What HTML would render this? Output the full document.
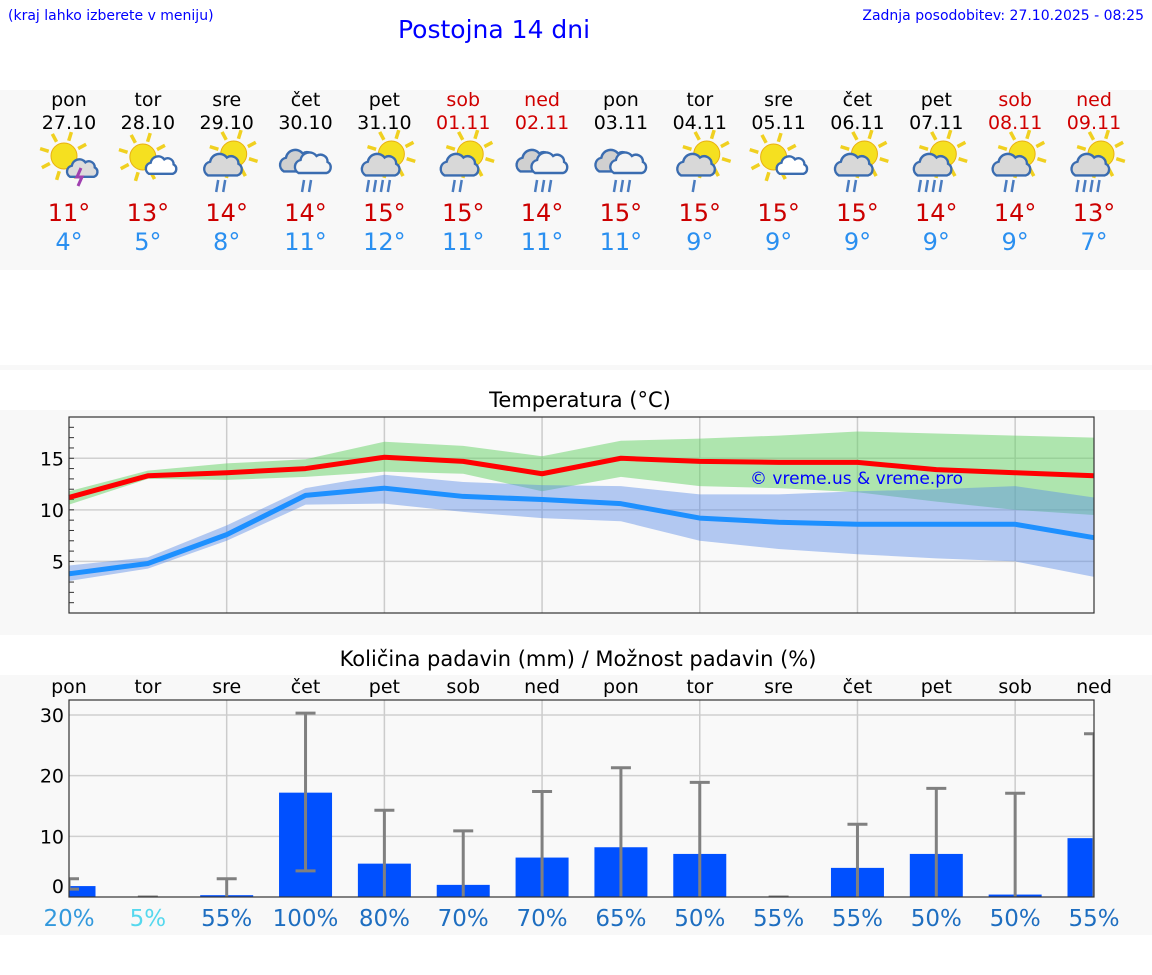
<!DOCTYPE html>
<html><head><meta charset="utf-8">
<style>
body{margin:0;width:1152px;height:975px;background:#fff;font-family:"DejaVu Sans","Liberation Sans",sans-serif;position:relative;overflow:hidden}
.abs{position:absolute}
</style></head>
<body>
<div class="abs" style="left:8px;top:8px;font-size:14px;color:#0000ff">(kraj lahko izberete v meniju)</div>
<div class="abs" style="left:398px;top:15px;font-size:25px;color:#0000ff">Postojna 14 dni</div>
<div class="abs" style="right:8px;top:8px;font-size:14px;color:#0000ff">Zadnja posodobitev: 27.10.2025 - 08:25</div>
<div class="abs" style="left:0;top:90px;width:1152px;height:180px;background:#f8f8f8"></div>
<div class="abs" style="left:0;top:365px;width:1152px;height:5px;background:#f8f8f8"></div>
<div class="abs" style="left:0;top:410px;width:1152px;height:225px;background:#f8f8f8"></div>
<div class="abs" style="left:0;top:675px;width:1152px;height:260px;background:#f8f8f8"></div>
<div id="days"></div>
<div class="abs" style="left:0;width:1160px;top:388px;text-align:center;font-size:21px">Temperatura (°C)</div>
<div class="abs" style="left:0;width:1156px;top:647px;text-align:center;font-size:21px">Količina padavin (mm) / Možnost padavin (%)</div>
<svg id="tchart" class="abs" style="left:0;top:0" width="1152" height="975"></svg>
<script>
const days=["pon","tor","sre","čet","pet","sob","ned","pon","tor","sre","čet","pet","sob","ned"];
const dates=["27.10","28.10","29.10","30.10","31.10","01.11","02.11","03.11","04.11","05.11","06.11","07.11","08.11","09.11"];
const maxT=[11,13,14,14,15,15,14,15,15,15,15,14,14,13];
const minT=[4,5,8,11,12,11,11,11,9,9,9,9,9,7];
const icons=["storm","sunc","sunr2","cr2","sunr4","sunr2","cr3","cr3","sunr1","sunc","sunr2","sunr4","sunr2","sunr4"];
const redLine=[11.2,13.3,13.6,14.0,15.1,14.7,13.5,15.0,14.7,14.6,14.6,13.9,13.6,13.3];
const blueLine=[3.8,4.8,7.6,11.4,12.1,11.3,11.0,10.6,9.2,8.8,8.6,8.6,8.6,7.3];
const greenHi=[11.8,13.8,14.5,14.9,16.6,16.2,15.2,16.7,16.9,17.2,17.6,17.4,17.2,17.0];
const greenLo=[10.5,13.0,12.9,13.2,13.7,13.5,11.8,13.2,12.3,12.1,11.7,10.8,10.0,9.5];
const blueHi=[4.6,5.4,8.5,12.1,13.4,12.7,12.4,12.3,11.5,11.5,11.8,12.0,12.3,11.2];
const blueLo=[3.1,4.3,7.0,10.5,10.6,9.8,9.2,8.9,7.0,6.2,5.7,5.3,5.0,3.5];
const tTicks=[5,10,15];
const rain=[1.8,0,0.3,17.2,5.5,2.0,6.5,8.2,7.1,0,4.8,7.1,0.4,9.7];
const rainLo=[1.3,0,0,4.3,0,0,0,0,0,0,0,0,0,0];
const rainHi=[3.0,0,3.0,30.3,14.3,10.9,17.4,21.3,18.9,0,12.0,17.9,17.1,26.9];
const prob=[20,5,55,100,80,70,70,65,50,55,55,50,50,55];
const pTicks=[0,10,20,30];
const X=i=>69+i*(1094-69)/13;
const yT=v=>613-v*(613-417)/19;
const yP=v=>897-v*(897-715)/30;
const NS="http://www.w3.org/2000/svg";
const svg=document.getElementById('tchart');
function mk(tag,attrs,parent){const e=document.createElementNS(NS,tag);for(const k in attrs)e.setAttribute(k,attrs[k]);(parent||svg).appendChild(e);return e;}
const dd=document.getElementById('days');
days.forEach((d,i)=>{
 const we=(i==5||i==6||i==12||i==13);
 const c=document.createElement('div');c.className='abs';
 
 
 c.style.cssText=`left:${X(i)-40}px;width:80px;top:89px;text-align:center`;
 c.innerHTML=`<div style="font-size:19px;line-height:23px;color:${we?'#d00000':'#000'}">${d}<br>${dates[i]}</div>
 <div style="height:64px"></div>
 <div style="font-size:24px;line-height:29px;color:#cc0000">${maxT[i]}°</div>
 <div style="font-size:24px;line-height:28px;color:#2a8ff0">${minT[i]}°</div>`;
 dd.appendChild(c);
});
function sun(g,cx,cy,r){for(let k=0;k<8;k++){const a=k*Math.PI/4+0.3;mk('line',{x1:cx+Math.cos(a)*(r+3),y1:cy+Math.sin(a)*(r+3),x2:cx+Math.cos(a)*(r+12),y2:cy+Math.sin(a)*(r+12),stroke:'#f0d020','stroke-width':3.5},g);}
 mk('circle',{cx,cy,r,fill:'#f5e020',stroke:'#e8b010','stroke-width':1},g);}
function cloud(g,cx,cy,s,fill){const p=`M${cx-14*s},${cy+8*s} a${7*s},${7*s} 0 0 1 ${2*s},${-13*s} a${9*s},${9*s} 0 0 1 ${16*s},${-4*s} a${7*s},${7*s} 0 0 1 ${11*s},${6*s} a${6*s},${6*s} 0 0 1 ${-1*s},${11*s} z`;
 mk('path',{d:p,fill:fill,stroke:'#3a6cb0','stroke-width':2.4},g);}
function drops(g,cx,cy,n){for(let k=0;k<n;k++){const x=cx-(n-1)*3.5+k*7;mk('line',{x1:x+2,y1:cy,x2:x,y2:cy+12,stroke:'#4a7cc0','stroke-width':2.5},g);}}
icons.forEach((t,i)=>{
 const g=mk('g',{});
 
 
 const cx=X(i),cy=160;
 if(t=='storm'){sun(g,cx-5,cy-4,13);cloud(g,cx+13,cy+10,0.85,'#dcdcdc');mk('path',{d:`M${cx+12},${cy+8} l-4,9 h5 l-4,9`,fill:'none',stroke:'#a040b0','stroke-width':3},g);}
 else if(t=='sunc'){sun(g,cx-5,cy-3,13);cloud(g,cx+13,cy+7,0.85,'#fff');}
 else if(t.startsWith('sunr')){sun(g,cx+7,cy-6,13);cloud(g,cx-4,cy+7,1.05,'#d8d8d8');drops(g,cx-7,cy+20,+t[4]);}
 else {cloud(g,cx-7,cy+3,1.05,'#d0d0d0');cloud(g,cx+7,cy+5,1.0,'#f4f4f4');drops(g,cx,cy+20,+t[2]);}
});
mk('rect',{x:69,y:417,width:1025,height:196,fill:'#f9f9f9'});
tTicks.forEach(v=>{mk('line',{x1:69,x2:1094,y1:yT(v),y2:yT(v),stroke:'#d0d0d0','stroke-width':1.5});
 const t=mk('text',{x:64,y:yT(v)+7,'text-anchor':'end','font-size':19,fill:'#000'});t.textContent=v;
 });
for(let v=1;v<19;v++)mk('line',{x1:69,x2:74,y1:yT(v),y2:yT(v),stroke:'#333','stroke-width':1});
for(let i=2;i<13;i+=2)mk('line',{x1:X(i),x2:X(i),y1:417,y2:613,stroke:'#cccccc','stroke-width':1.5});
function band(hi,lo,fill,name){let d='M'+hi.map((v,i)=>X(i)+','+yT(v)).join('L')+'L'+lo.map((v,i)=>X(i)+','+yT(v)).reverse().join('L')+'Z';
 const p=mk('path',{d,fill});}
band(greenHi,greenLo,'rgba(100,210,100,0.5)','max-temp-range');
band(blueHi,blueLo,'rgba(90,140,230,0.45)','min-temp-range');
function line(arr,col,name){const p=mk('polyline',{points:arr.map((v,i)=>X(i)+','+yT(v)).join(' '),fill:'none',stroke:col,'stroke-width':5,'stroke-linejoin':'round'});
 }
line(blueLine,'#1e90ff','min-temp-line');
line(redLine,'#ff0000','max-temp-line');
const wm=mk('text',{x:750,y:484,'font-size':17,fill:'#0000ff'});wm.textContent='© vreme.us & vreme.pro';

mk('rect',{x:69,y:417,width:1025,height:196,fill:'none',stroke:'#333','stroke-width':1.2});
mk('rect',{x:69,y:700,width:1025,height:197,fill:'#f9f9f9'});
pTicks.forEach(v=>{if(v>0)mk('line',{x1:69,x2:1094,y1:yP(v),y2:yP(v),stroke:'#d0d0d0','stroke-width':1.5});
 const t=mk('text',{x:64,y:(v==0?yP(v)-4:yP(v)+7),'text-anchor':'end','font-size':19,fill:'#000'});t.textContent=v;
 });
for(let i=2;i<13;i+=2)mk('line',{x1:X(i),x2:X(i),y1:700,y2:897,stroke:'#cccccc','stroke-width':1.5});
const cp=mk('clipPath',{id:'pc'});mk('rect',{x:69,y:700,width:1025,height:197},cp);
const pg=mk('g',{'clip-path':'url(#pc)'});
rain.forEach((v,i)=>{const r=mk('rect',{x:X(i)-26.5,y:yP(v),width:53,height:897-yP(v),fill:'#0050ff'},pg);
 });
rainHi.forEach((h,i)=>{const lo=rainLo[i];const g=mk('g',{},pg);
 
 mk('line',{x1:X(i),x2:X(i),y1:yP(lo),y2:yP(h),stroke:'#808080','stroke-width':3},g);
 mk('line',{x1:X(i)-10,x2:X(i)+10,y1:yP(h),y2:yP(h),stroke:'#808080','stroke-width':3},g);
 if(lo>0)mk('line',{x1:X(i)-10,x2:X(i)+10,y1:yP(lo),y2:yP(lo),stroke:'#808080','stroke-width':3},g);});
mk('rect',{x:69,y:700,width:1025,height:197,fill:'none',stroke:'#333','stroke-width':1.2});
days.forEach((d,i)=>{const t=mk('text',{x:X(i),y:693,'text-anchor':'middle','font-size':19,fill:'#000'});t.textContent=d;
 });
prob.forEach((p,i)=>{const col=p<=5?'#55d8ee':p<=20?'#3399dd':'#1e6ec0';
 const t=mk('text',{x:X(i),y:926,'text-anchor':'middle','font-size':23,fill:col});t.textContent=p+'%';
 });
</script>
</body></html>
